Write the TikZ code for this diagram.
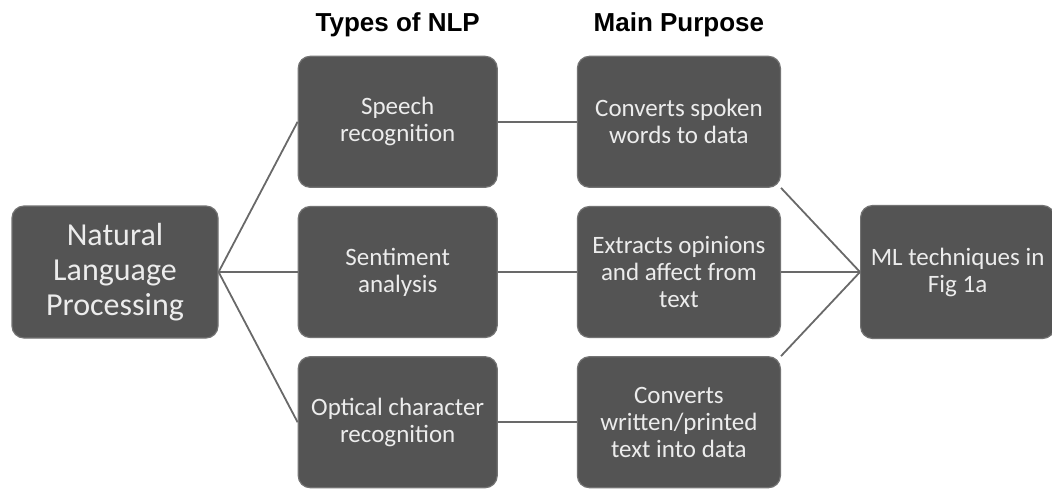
\documentclass[tikz,border=0pt]{standalone}
\usepackage{fontspec}
\setmainfont{Carlito}
\newfontfamily\headfont{Liberation Sans}
\usepackage{tikz}
\usetikzlibrary{positioning}

\definecolor{boxgray}{RGB}{84,84,84}
\definecolor{boxline}{RGB}{115,115,115}
\definecolor{boxtext}{RGB}{236,236,236}
\definecolor{linkgray}{RGB}{105,105,105}

\begin{document}
\begin{tikzpicture}[-,auto,node distance=9pt and 39.5pt,
                    semithick]
  \tikzstyle{box}=[draw=boxline,line width=0.6pt,fill=boxgray,rounded corners=6pt,text=boxtext,align=center,
                   minimum width=99.5pt,minimum height=65.5pt,font=\fontsize{12.5}{13.5}\selectfont]
  \tikzstyle{head}=[inner sep=0pt,font=\headfont\bfseries\fontsize{13}{15}\selectfont]
  \tikzstyle{link}=[draw=linkgray,line width=0.9pt]

  \useasboundingbox (0pt,0pt) rectangle (526pt,-244.5pt);

  \node[box,minimum width=103pt,minimum height=66pt,font=\fontsize{16}{17.5}\selectfont]
                        (nlp)  at (57.5pt,-136pt)  {Natural\\Language\\Processing};
  \node[box]            (sent)  [right=of nlp]     {Sentiment\\analysis};
  \node[box]            (speech) [above=of sent]   {Speech\\recognition};
  \node[box]            (ocr)  [below=of sent]     {Optical character\\recognition};

  \node[box,minimum width=101.5pt] (opinion) [right=of sent]    {Extracts opinions\\and affect from\\text};
  \node[box,minimum width=101.5pt] (spoken)  [above=of opinion] {Converts spoken\\words to data};
  \node[box,minimum width=101.5pt] (written) [below=of opinion] {Converts\\written/printed\\text into data};

  \node[box,minimum width=97pt,minimum height=66.5pt] (ml) [right=of opinion] {ML techniques in\\Fig 1a};

  \node[head] (types)   [above=9pt of speech] {Types of NLP};
  \node[head] (purpose) [above=9pt of spoken] {Main Purpose};

  \path (nlp.east) edge[link] (speech.west);
  \path (nlp.east) edge[link] (sent.west);
  \path (nlp.east) edge[link] (ocr.west);
  \path (speech) edge[link] (spoken);
  \path (sent) edge[link] (opinion);
  \path (ocr) edge[link] (written);
  \path (spoken.south east) edge[link] (ml.west);
  \path (opinion) edge[link] (ml);
  \path (written.north east) edge[link] (ml.west);

\end{tikzpicture}
\end{document}
